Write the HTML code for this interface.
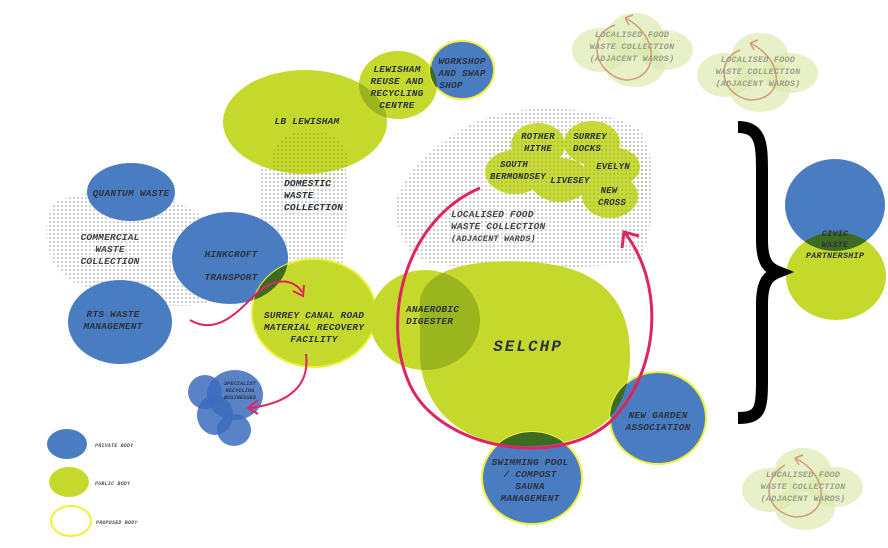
<!DOCTYPE html>
<html><head><meta charset="utf-8"><style>
html,body{margin:0;padding:0;background:#fff;}
svg{display:block;}
text{font-family:"Liberation Mono",monospace;font-style:italic;font-weight:bold;letter-spacing:0.2px;}
.b{fill:#4a7cc1;}
.g{fill:#c5d92d;}
.d{fill:#3d6b22;}
.t{fill:#2b3340;font-size:9.5px;text-anchor:middle;}
.c{fill:#dde9ae;opacity:0.7;}
.ct{fill:#9aa08a;font-size:8.5px;text-anchor:middle;}
</style></head><body>
<svg width="888" height="548" viewBox="0 0 888 548" xmlns="http://www.w3.org/2000/svg">
<defs>
<pattern id="dots" width="4" height="4" patternUnits="userSpaceOnUse">
<circle cx="2" cy="2" r="0.9" fill="#9a9a9a"/>
</pattern>
<pattern id="dotsg" width="4" height="4" patternUnits="userSpaceOnUse">
<circle cx="2" cy="2" r="0.9" fill="#6f8a1c"/>
</pattern>
<clipPath id="cSurrey"><ellipse cx="314" cy="313" rx="62" ry="54"/></clipPath>
<clipPath id="cSel"><path d="M420,310 C415,270 470,258 530,262 C600,266 632,300 630,360 C628,420 590,445 530,446 C460,446 425,410 420,360 Z"/></clipPath>
<clipPath id="cReuse"><ellipse cx="398" cy="85" rx="39" ry="34"/></clipPath>
<clipPath id="cLB"><ellipse cx="305" cy="122" rx="82" ry="52"/></clipPath>
<clipPath id="cCivG"><ellipse cx="836" cy="276" rx="50" ry="44"/></clipPath>
</defs>
<rect width="888" height="548" fill="#fff"/>

<!-- clouds -->
<g>
<ellipse class="c" cx="600" cy="50" rx="28" ry="22"/><ellipse class="c" cx="635" cy="35" rx="28" ry="22"/><ellipse class="c" cx="665" cy="50" rx="28" ry="20"/><ellipse class="c" cx="635" cy="65" rx="30" ry="22"/>
<path d="M625,80 C595,75 585,35 615,25" fill="none" stroke="#d49a7a" stroke-width="1.5"/>
<path d="M625,80 C660,80 660,35 625,18 M625,18 l8,-3 M625,18 l4,7" fill="none" stroke="#d49a7a" stroke-width="1.5"/>
<text class="ct" x="632" y="37">LOCALISED FOOD</text><text class="ct" x="632" y="49">WASTE COLLECTION</text><text class="ct" x="632" y="61">(ADJACENT WARDS)</text>
</g>
<g>
<ellipse class="c" cx="725" cy="75" rx="28" ry="22"/><ellipse class="c" cx="760" cy="55" rx="28" ry="22"/><ellipse class="c" cx="790" cy="73" rx="28" ry="20"/><ellipse class="c" cx="760" cy="90" rx="30" ry="22"/>
<path d="M750,100 C720,95 715,60 740,50" fill="none" stroke="#d49a7a" stroke-width="1.5"/>
<path d="M750,100 C785,100 785,60 750,43 M750,43 l8,-3 M750,43 l4,7" fill="none" stroke="#d49a7a" stroke-width="1.5"/>
<text class="ct" x="758" y="62">LOCALISED FOOD</text><text class="ct" x="758" y="74">WASTE COLLECTION</text><text class="ct" x="758" y="86">(ADJACENT WARDS)</text>
</g>
<g>
<ellipse class="c" cx="770" cy="490" rx="28" ry="22"/><ellipse class="c" cx="803" cy="470" rx="28" ry="22"/><ellipse class="c" cx="835" cy="487" rx="28" ry="20"/><ellipse class="c" cx="805" cy="508" rx="30" ry="22"/>
<path d="M795,517 C765,512 760,480 785,465" fill="none" stroke="#d49a7a" stroke-width="1.5"/>
<path d="M795,517 C830,517 830,475 795,458 M795,458 l8,-3 M795,458 l4,7" fill="none" stroke="#d49a7a" stroke-width="1.5"/>
<text class="ct" x="803" y="477">LOCALISED FOOD</text><text class="ct" x="803" y="489">WASTE COLLECTION</text><text class="ct" x="803" y="501">(ADJACENT WARDS)</text>
</g>

<!-- dotted zones -->
<path d="M60,200 C100,185 170,190 200,215 C230,240 240,280 215,300 C180,315 110,300 70,280 C40,260 40,210 60,200 Z" fill="url(#dots)" opacity="0.8"/>
<path d="M265,135 C290,125 335,130 345,160 C350,200 345,260 340,290 L270,290 C262,240 255,170 265,135 Z" fill="url(#dots)" opacity="0.8"/>
<path d="M400,230 C380,200 420,150 470,125 C520,100 600,105 640,130 C660,160 655,230 640,260 C600,270 500,270 440,265 C410,260 405,245 400,230 Z" fill="url(#dots)" opacity="0.8"/>

<!-- main bodies -->
<ellipse class="g" cx="305" cy="122" rx="82" ry="52"/>
<ellipse cx="310" cy="160" rx="38" ry="30" fill="url(#dotsg)" opacity="0.5"/>
<ellipse class="g" cx="398" cy="85" rx="39" ry="34"/>
<ellipse cx="398" cy="85" rx="39" ry="34" fill="#9bb51e" clip-path="url(#cLB)"/>
<ellipse class="b" cx="462" cy="70" rx="32" ry="29" stroke="#f0f03a" stroke-width="2"/>
<ellipse class="d" cx="462" cy="70" rx="32" ry="29" clip-path="url(#cReuse)"/>
<ellipse class="b" cx="131" cy="192" rx="44" ry="29"/>
<ellipse class="b" cx="230" cy="258" rx="58" ry="46"/>
<ellipse class="b" cx="120" cy="322" rx="52" ry="42"/>
<ellipse class="g" cx="314" cy="313" rx="62" ry="54" stroke="#eef03a" stroke-width="2"/>
<ellipse class="d" cx="230" cy="258" rx="58" ry="46" clip-path="url(#cSurrey)"/>
<ellipse class="g" cx="425" cy="320" rx="55" ry="50"/>
<path class="g" d="M420,310 C415,270 470,258 530,262 C600,266 632,300 630,360 C628,420 590,445 530,446 C460,446 425,410 420,360 Z"/>
<ellipse cx="425" cy="320" rx="55" ry="50" fill="#9bb51e" clip-path="url(#cSel)"/>
<ellipse class="b" cx="658" cy="418" rx="48" ry="46" stroke="#eef03a" stroke-width="2"/>
<ellipse class="d" cx="658" cy="418" rx="48" ry="46" clip-path="url(#cSel)"/>
<ellipse class="b" cx="532" cy="478" rx="50" ry="46" stroke="#eef03a" stroke-width="2"/>
<ellipse class="d" cx="532" cy="478" rx="50" ry="46" clip-path="url(#cSel)"/>

<!-- wards -->
<g opacity="0.95">
<ellipse class="g" cx="538" cy="145" rx="27" ry="22"/>
<ellipse class="g" cx="592" cy="143" rx="28" ry="22"/>
<ellipse class="g" cx="515" cy="172" rx="30" ry="22"/>
<ellipse class="g" cx="560" cy="180" rx="30" ry="22"/>
<ellipse class="g" cx="612" cy="167" rx="28" ry="20"/>
<ellipse class="g" cx="610" cy="196" rx="28" ry="22"/>
</g>
<path d="M490,150 C500,125 630,120 640,150 C660,190 640,220 610,218 C560,205 500,200 488,180 Z" fill="url(#dotsg)" opacity="0.4"/>

<!-- specialist cluster -->
<ellipse cx="205" cy="392" rx="17" ry="17" fill="#3d6cbd" opacity="0.85"/>
<ellipse cx="235" cy="395" rx="28" ry="25" fill="#3d6cbd" opacity="0.85"/>
<ellipse cx="215" cy="415" rx="18" ry="20" fill="#3d6cbd" opacity="0.85"/>
<ellipse cx="234" cy="430" rx="17" ry="16" fill="#3d6cbd" opacity="0.85"/>
<text style="fill:#2b3340;font-size:5px;text-anchor:middle" x="240" y="385">SPECIALIST</text>
<text style="fill:#2b3340;font-size:5px;text-anchor:middle" x="240" y="392">RECYCLING</text>
<text style="fill:#2b3340;font-size:5px;text-anchor:middle" x="240" y="399">BUSINESSES</text>

<!-- civic -->
<ellipse class="g" cx="836" cy="276" rx="50" ry="44"/>
<ellipse class="b" cx="835" cy="205" rx="50" ry="46"/>
<ellipse class="d" cx="835" cy="205" rx="50" ry="46" clip-path="url(#cCivG)"/>
<text class="t" x="835" y="236" style="font-size:8.5px">CIVIC</text>
<text class="t" x="835" y="247" style="font-size:8.5px">WASTE</text>
<text class="t" x="835" y="258" style="font-size:8.5px">PARTNERSHIP</text>

<!-- brace -->
<path d="M738,127 C762,127 762,145 762,175 L762,240 C762,262 768,268 778,272 C768,276 762,282 762,304 L762,380 C762,410 760,418 738,418" fill="none" stroke="#000" stroke-width="12"/>

<!-- red arrows -->
<path d="M480,188 C405,220 380,320 410,385 C440,450 560,470 612,420 C660,370 665,285 625,233" fill="none" stroke="#e0245e" stroke-width="3"/>
<path d="M622,248 L624,232 L639,236" fill="none" stroke="#e0245e" stroke-width="3"/>
<path d="M190,320 C215,335 235,315 255,295 C275,275 295,280 302,292" fill="none" stroke="#e0245e" stroke-width="2"/>
<path d="M293,291 L303,296 L304,285" fill="none" stroke="#e0245e" stroke-width="2"/>
<path d="M306,354 C310,385 290,403 250,408" fill="none" stroke="#e0245e" stroke-width="2"/>
<path d="M258,400 L248,408 L258,414" fill="none" stroke="#e0245e" stroke-width="2"/>

<!-- labels -->
<text class="t" x="307" y="124">LB LEWISHAM</text>
<text class="t" x="397" y="72">LEWISHAM</text><text class="t" x="397" y="84">REUSE AND</text><text class="t" x="397" y="96">RECYCLING</text><text class="t" x="397" y="108">CENTRE</text>
<text class="t" x="462" y="64">WORKSHOP</text><text class="t" x="462" y="76">AND SWAP</text><text class="t" x="451" y="88">SHOP</text>
<text class="t" x="284" y="186" style="text-anchor:start">DOMESTIC</text>
<text class="t" x="284" y="198" style="text-anchor:start">WASTE</text>
<text class="t" x="284" y="210" style="text-anchor:start">COLLECTION</text>
<text class="t" x="131" y="196">QUANTUM WASTE</text>
<text class="t" x="110" y="240" style="fill:#444">COMMERCIAL</text><text class="t" x="110" y="252" style="fill:#444">WASTE</text><text class="t" x="110" y="264" style="fill:#444">COLLECTION</text>
<text class="t" x="231" y="257">HINKCROFT</text><text class="t" x="231" y="280">TRANSPORT</text>
<text class="t" x="113" y="317">RTS WASTE</text><text class="t" x="113" y="329">MANAGEMENT</text>
<text class="t" x="314" y="318">SURREY CANAL ROAD</text><text class="t" x="314" y="330">MATERIAL RECOVERY</text><text class="t" x="314" y="342">FACILITY</text>
<text class="t" x="406" y="312" style="text-anchor:start">ANAEROBIC</text><text class="t" x="406" y="324" style="text-anchor:start">DIGESTER</text>
<text class="t" x="528" y="351" style="font-size:16px;letter-spacing:2px">SELCHP</text>
<text class="t" x="658" y="418">NEW GARDEN</text><text class="t" x="658" y="430">ASSOCIATION</text>
<text class="t" x="530" y="465">SWIMMING POOL</text><text class="t" x="530" y="477">/ COMPOST</text><text class="t" x="530" y="489">SAUNA</text><text class="t" x="530" y="501">MANAGEMENT</text>
<text class="t" x="538" y="139" style="font-size:9px">ROTHER</text><text class="t" x="538" y="151" style="font-size:9px">HITHE</text>
<text class="t" x="590" y="139" style="font-size:9px">SURREY</text><text class="t" x="587" y="151" style="font-size:9px">DOCKS</text>
<text class="t" x="514" y="167" style="font-size:9px">SOUTH</text><text class="t" x="518" y="179" style="font-size:9px">BERMONDSEY</text>
<text class="t" x="570" y="183" style="font-size:9px">LIVESEY</text>
<text class="t" x="613" y="169" style="font-size:9px">EVELYN</text>
<text class="t" x="609" y="193" style="font-size:9px">NEW</text><text class="t" x="612" y="205" style="font-size:9px">CROSS</text>
<text class="t" x="451" y="217" style="text-anchor:start;fill:#444">LOCALISED FOOD</text>
<text class="t" x="451" y="229" style="text-anchor:start;fill:#444">WASTE COLLECTION</text>
<text class="t" x="451" y="241" style="text-anchor:start;fill:#444;font-size:8.5px">(ADJACENT WARDS)</text>

<!-- legend -->
<ellipse cx="67" cy="444" rx="20" ry="15" fill="#4a7cc1"/>
<ellipse cx="69" cy="482" rx="20" ry="15" fill="#c5d92d"/>
<ellipse cx="71" cy="521" rx="20" ry="15" fill="none" stroke="#eef03a" stroke-width="2"/>
<text x="95" y="447" style="font-size:5px;fill:#555">PRIVATE BODY</text>
<text x="95" y="485" style="font-size:5px;fill:#555">PUBLIC BODY</text>
<text x="96" y="524" style="font-size:5px;fill:#555">PROPOSED BODY</text>
</svg>
</body></html>
